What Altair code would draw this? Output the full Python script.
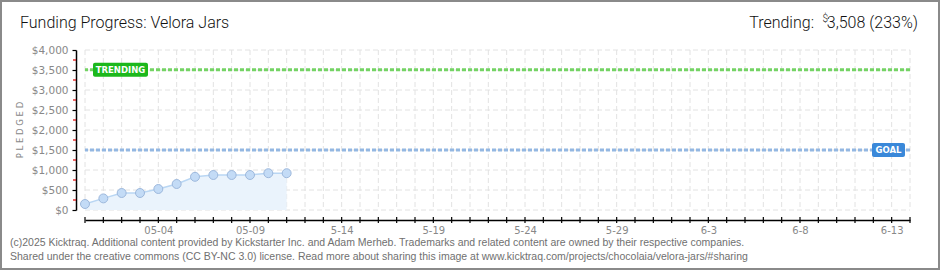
import altair as alt
import pandas as pd

# ---- data ----
pledged_days = ["04-30", "05-01", "05-02", "05-03", "05-04", "05-05",
                "05-06", "05-07", "05-08", "05-09", "05-10", "05-11"]
pledged = [150, 290, 425, 425, 525, 650, 830, 875, 875, 875, 920, 920]
n_days = 46  # 04-30 .. 06-14
tick_label_days = [4, 9, 14, 19, 24, 29, 34, 39, 44]
tick_labels = ["05-04", "05-09", "5-14", "5-19", "5-24", "5-29", "6-3", "6-8", "6-13"]
y_ticks = [0, 500, 1000, 1500, 2000, 2500, 3000, 3500, 4000]
y_minor = [250, 750, 1250, 1750, 2250, 2750, 3250, 3750]
goal = 1500
trending = 3508
trending_pct = 233
title_text = "Funding Progress: Velora Jars"
footer1 = ("(c)2025 Kicktraq. Additional content provided by Kickstarter Inc. and Adam Merheb. "
           "Trademarks and related content are owned by their respective companies.")
footer2 = ("Shared under the creative commons (CC BY-NC 3.0) license. Read more about sharing this "
           "image at www.kicktraq.com/projects/chocolaia/velora-jars/#sharing")

W, H = 825, 160
PL, PT = 85, 50

df = pd.DataFrame({"day": list(range(len(pledged))), "date": pledged_days, "pledged": pledged})
days_df = pd.DataFrame({"day": list(range(n_days))})
minor_df = pd.DataFrame({"pledged": y_minor})
ygrid_df = pd.DataFrame({"pledged": y_ticks})

label_expr = ("indexof(%s, datum.value) >= 0 ? %s[indexof(%s, datum.value)] : ''"
              % (str(tick_label_days), str(tick_labels), str(tick_label_days)))

x_scale = alt.Scale(domain=[0, n_days - 1], nice=False, zero=False)
y_scale = alt.Scale(domain=[0, 4000], nice=False)

x_axis = alt.Axis(values=tick_label_days, labelExpr=label_expr, title=None, offset=10,
                  domainColor="black", domainWidth=1.5, ticks=False,
                  labelColor="#888", labelFont="DejaVu Sans", labelFontSize=10,
                  labelPadding=5, grid=False, labelOverlap=False)
y_axis = alt.Axis(values=y_ticks, format="$,d", title=None, offset=9,
                  domainColor="black", domainWidth=1.5, tickColor="black", tickSize=4,
                  tickWidth=1.2, labelColor="#888", labelFont="DejaVu Sans", labelFontSize=10.5,
                  labelPadding=4, grid=False, labelOverlap=False, labelBound=False)

XA = alt.X("day:Q", scale=x_scale, axis=x_axis)
YA = alt.Y("pledged:Q", scale=y_scale, axis=y_axis)
Ylo = alt.Y("lo:Q", scale=y_scale, axis=y_axis)

grid_style = dict(color="#e2e2e2", strokeWidth=1, strokeDash=[5, 3])
vgrid = alt.Chart(days_df).mark_rule(**grid_style).encode(x=XA, y=alt.value(0), y2=alt.value(H))
hgrid = alt.Chart(ygrid_df).mark_rule(**grid_style).encode(y=YA, x=alt.value(0), x2=alt.value(W))

area = alt.Chart(df).mark_area(color="#eaf3fc", opacity=1).encode(x=XA, y=YA)
line = alt.Chart(df).mark_line(color="#b9d6f3", strokeWidth=1.5).encode(x=XA, y=YA)
pts = alt.Chart(df).mark_point(filled=True, fill="#c3dbf6", stroke="#9db8dc", strokeWidth=1,
                               size=80, opacity=1).encode(x=XA, y=YA)

xticks = alt.Chart(days_df).mark_rule(color="black", strokeWidth=1.2).encode(
    x=XA, y=alt.value(H + 7), y2=alt.value(H + 13))
yminor = alt.Chart(minor_df).mark_rule(color="#e00000", strokeWidth=1.2).encode(
    y=YA, x=alt.value(-12), x2=alt.value(-9))

ref_df = pd.DataFrame({"name": ["TRENDING", "GOAL"], "pledged": [trending, goal],
                       "lo": [trending - 175, goal - 175], "hi": [trending + 175, goal + 175]})
tr = ref_df[ref_df.name == "TRENDING"]
gl = ref_df[ref_df.name == "GOAL"]

trend_rule = alt.Chart(tr).mark_rule(color="#74d364", strokeWidth=3, strokeDash=[4, 2]).encode(y=YA)
goal_rule = alt.Chart(gl).mark_rule(color="#93b7e2", strokeWidth=3, strokeDash=[4, 2]).encode(y=YA)

trend_box = alt.Chart(tr).mark_rect(color="#1cb81c", cornerRadius=2).encode(
    y=Ylo, y2="hi:Q", x=alt.value(8), x2=alt.value(63))
trend_txt = alt.Chart(tr).mark_text(color="white", font="DejaVu Sans", fontSize=8.5,
                                    fontWeight="bold", align="center", baseline="middle").encode(
    y=YA, x=alt.value(35.5), text="name:N")
goal_box = alt.Chart(gl).mark_rect(color="#3a88d9", cornerRadius=2).encode(
    y=Ylo, y2="hi:Q", x=alt.value(787), x2=alt.value(820))
goal_txt = alt.Chart(gl).mark_text(color="white", font="DejaVu Sans", fontSize=8.5,
                                   fontWeight="bold", align="center", baseline="middle").encode(
    y=YA, x=alt.value(803.5), text="name:N")


def label(text, x, y, **kw):
    return alt.Chart(pd.DataFrame({"t": [text]})).mark_text(**kw).encode(
        x=alt.value(x - PL), y=alt.value(y - PT), text="t:N")


head = dict(font="Roboto", fontSize=16, fontWeight=300, color="#111", baseline="middle")
title = label(title_text, 20, 23, align="left", **head)
tr_value = label("%s (%d%%)" % (format(trending, ","), trending_pct), 918, 23, align="right", **head)
tr_dollar = label("$", 828, 19, font="Roboto", fontSize=10, fontWeight=300, color="#111",
                  align="right", baseline="middle")
tr_label = label("Trending:", 814, 23, align="right", **head)

pledged_title = label("P L E D G E D", 20, 130, font="DejaVu Sans", fontSize=8.5, color="#888",
                      angle=270, align="center", baseline="middle")

foot_style = dict(font="Liberation Sans", fontSize=10.5, color="#707070", align="left", baseline="middle")
foot1 = label(footer1, 10, 243, **foot_style)
foot2 = label(footer2, 10, 257, **foot_style)

border = alt.Chart(pd.DataFrame({"a": [0]})).mark_rect(fill=None, stroke="#8a8a8a", strokeWidth=2).encode(
    x=alt.value(1 - PL), x2=alt.value(939 - PL), y=alt.value(1 - PT), y2=alt.value(269 - PT))

chart = alt.layer(
    vgrid, hgrid, area, line, pts, xticks, yminor, trend_rule, goal_rule,
    trend_box, trend_txt, goal_box, goal_txt,
    title, tr_value, tr_dollar, tr_label, pledged_title, foot1, foot2, border
).properties(
    width=W, height=H,
    padding={"left": PL, "top": PT, "right": 940 - PL - W, "bottom": 270 - PT - H},
    autosize=alt.AutoSizeParams(type="none"),
    background="white"
).configure_view(stroke=None).configure_axisY(labelOverlap=False)

chart.save("out.html", embed_options={"renderer": "svg", "actions": False})
